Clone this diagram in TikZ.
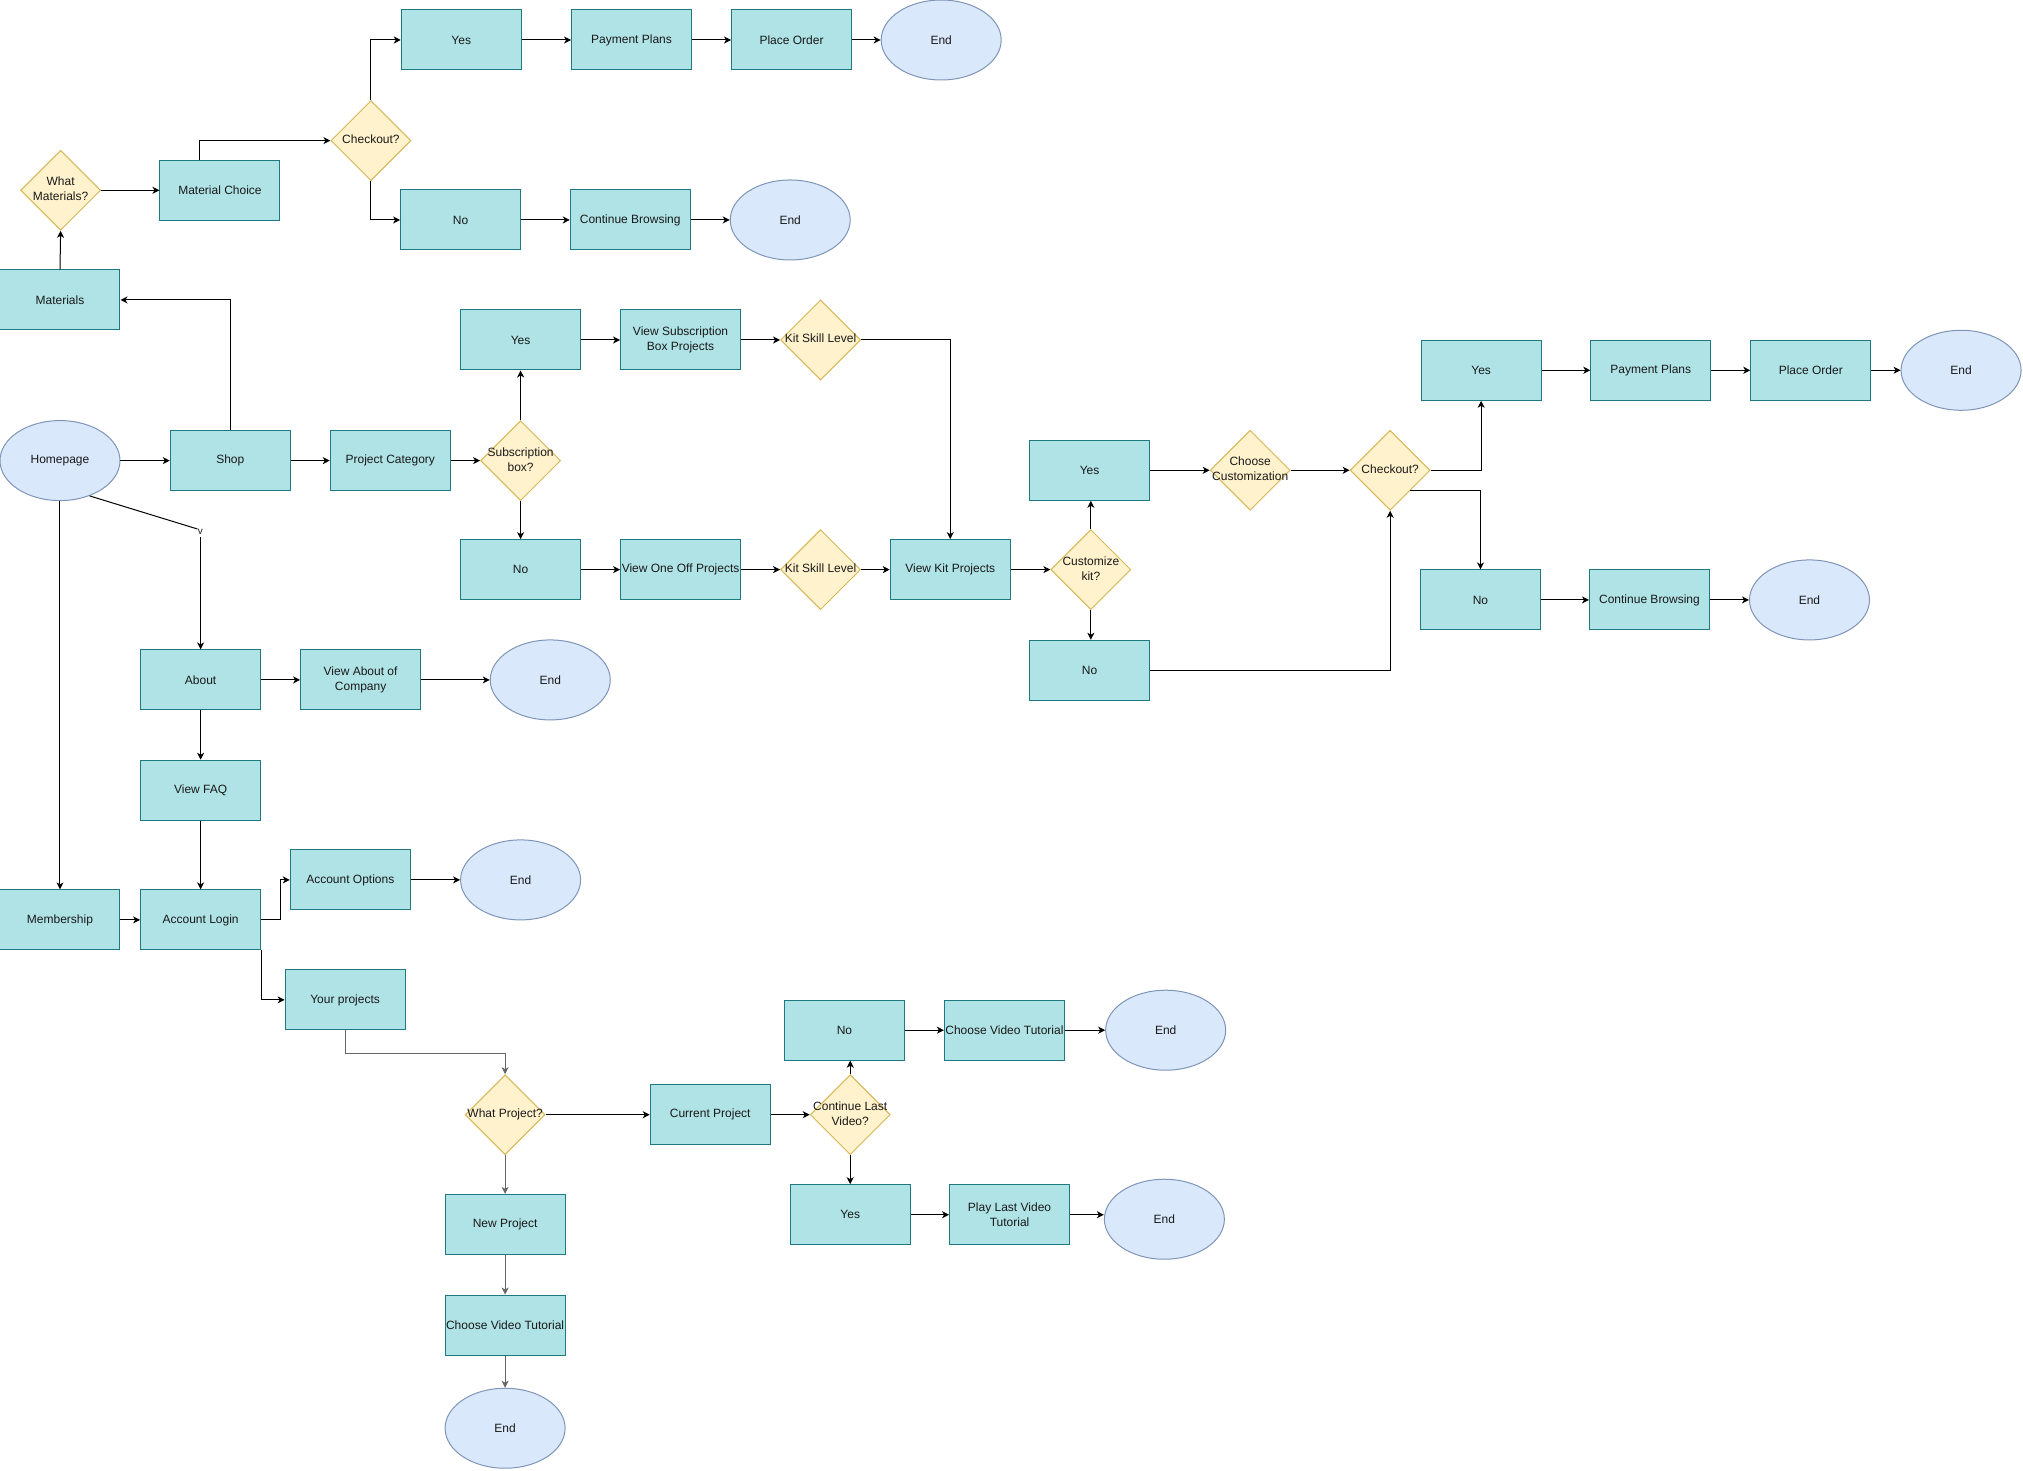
\documentclass[tikz,border=0pt]{standalone}
\usepackage{fontspec}
\setmainfont{Liberation Sans}
\usetikzlibrary{shapes.geometric,arrows.meta,calc}
\definecolor{boxfill}{HTML}{B0E3E6}
\definecolor{boxline}{HTML}{1E7A80}
\definecolor{endfill}{HTML}{DAE8FC}
\definecolor{endline}{HTML}{7F95B8}
\definecolor{decfill}{HTML}{FFF2CC}
\definecolor{decline}{HTML}{D6B656}
\definecolor{greyline}{HTML}{666666}
\newcommand\zwtext[1]{\makebox[0pt]{\begin{tabular}{@{}c@{}}#1\end{tabular}}}
\tikzset{
  every node/.style={font=\fontsize{12}{15}\selectfont, text=black!90},
  box/.style={rectangle, draw=boxline, fill=boxfill, line width=1pt, minimum width=120pt, minimum height=60pt, inner sep=0pt, align=center},
  term/.style={ellipse, draw=endline, fill=endfill, line width=1pt, minimum width=120pt, minimum height=80pt, inner sep=0pt, align=center},
  dec/.style={diamond, draw=decline, fill=decfill, line width=1pt, minimum width=80pt, minimum height=80pt, inner sep=0pt},
  arr/.style={draw=black, line width=1pt, -{Stealth[length=7pt,width=7pt,inset=2pt]}},
  garr/.style={arr, draw=greyline},
  plainline/.style={draw=black, line width=1pt},
}
\begin{document}
\begin{tikzpicture}[x=1.2902pt, y=-1.2902pt]
\useasboundingbox (0,0) rectangle (1568,1140);
% ---------- top branch
\node[box] (y1) at (357.5,31) {Yes};
\node[box] (pp1) at (489.5,31) {Payment Plans};
\node[box] (po1) at (613.5,31) {Place Order};
\node[term] (e1) at (729.5,31) {End};
\node[dec] (ck1) at (287.5,109) {\zwtext{Checkout?}};
\node[box] (n1) at (357,170.5) {No};
\node[box] (cb1) at (488.5,170.5) {Continue Browsing};
\node[term] (e2) at (612.5,170.5) {End};
\node[dec] (wm) at (47,147.5) {\zwtext{What\\Materials?}};
\node[box] (mc) at (170.5,147.5) {Material Choice};
\node[box] (mat) at (46.5,232.5) {Materials};
% ---------- middle
\node[term] (home) at (46.5,357) {Homepage};
\node[box] (shop) at (178.5,357) {Shop};
\node[box] (pc) at (302.5,357) {Project Category};
\node[dec] (sb) at (403.5,357) {\zwtext{Subscription\\box?}};
\node[box] (y2) at (403.5,263.5) {Yes};
\node[box] (vsb) at (527.5,263.5) {View Subscription\\Box Projects};
\node[dec] (k1) at (636,263.5) {\zwtext{Kit Skill Level}};
\node[box] (n2) at (403.5,441.5) {No};
\node[box] (voo) at (527.5,441.5) {View One Off Projects};
\node[dec] (k2) at (636,441.5) {\zwtext{Kit Skill Level}};
\node[box] (vkp) at (736.5,441.5) {View Kit Projects};
\node[dec] (cz) at (845.5,441.5) {\zwtext{Customize\\kit?}};
\node[box] (y3) at (844.5,364.5) {Yes};
\node[box] (n3) at (844.5,519.5) {No};
\node[dec] (cc) at (969,364.5) {\zwtext{Choose\\Customization}};
\node[dec] (ck2) at (1077.5,364.5) {\zwtext{Checkout?}};
\node[box] (y4) at (1148,287) {Yes};
\node[box] (pp2) at (1279.5,287) {Payment Plans};
\node[box] (po2) at (1403.5,287) {Place Order};
\node[term] (e3) at (1520,287) {End};
\node[box] (n4) at (1147.5,465) {No};
\node[box] (cb2) at (1278.5,465) {Continue Browsing};
\node[term] (e4) at (1402.5,465) {End};
% ---------- about / account
\node[box] (ab) at (155.5,527) {About};
\node[box] (vac) at (279.5,527) {View About of\\Company};
\node[term] (e5) at (426.5,527) {End};
\node[box] (faq) at (155.5,612.5) {View FAQ};
\node[box] (mem) at (46.5,713) {Membership};
\node[box] (al) at (155.5,713) {Account Login};
\node[box] (ao) at (271.5,682) {Account Options};
\node[term] (e6) at (403.5,682) {End};
\node[box] (yp) at (267.5,775) {Your projects};
\node[dec] (wp) at (391.5,864) {\zwtext{What Project?}};
\node[box] (cp) at (550.5,864) {Current Project};
\node[dec] (clv) at (659,864) {\zwtext{Continue Last\\Video?}};
\node[box] (n5) at (654.5,798.5) {No};
\node[box] (cvt1) at (778.5,798.5) {Choose Video Tutorial};
\node[term] (e7) at (903.5,798.5) {End};
\node[box] (y5) at (659,941.5) {Yes};
\node[box] (plv) at (782.5,941.5) {Play Last Video\\Tutorial};
\node[term] (e8) at (902.5,945) {End};
\node[box] (np) at (391.5,949) {New Project};
\node[box] (cvt2) at (391.5,1027) {Choose Video Tutorial};
\node[term] (e9) at (391.5,1107) {End};
% ---------- connectors: top
\draw[arr] (mat.north) -- (wm.south);
\draw[arr] (wm.east) -- (mc.west);
\draw[arr] ([xshift=-20pt]mc.north) |- (ck1.west);
\draw[arr] (ck1.north) |- (y1.west);
\draw[arr] (ck1.south) |- (n1.west);
\draw[arr] (y1) -- (pp1);
\draw[arr] (pp1) -- (po1);
\draw[arr] (po1) -- (e1);
\draw[arr] (n1) -- (cb1);
\draw[arr] (cb1) -- (e2);
\draw[arr] (shop.north) |- (mat.east);
% ---------- middle
\draw[arr] (home) -- (shop);
\draw[arr] (shop) -- (pc);
\draw[arr] (pc) -- (sb);
\draw[arr] (sb.north) -- (y2.south);
\draw[arr] (sb.south) -- (n2.north);
\draw[arr] (y2) -- (vsb);
\draw[arr] (vsb) -- (k1);
\draw[arr] (k1.east) -| (vkp.north);
\draw[arr] (n2) -- (voo);
\draw[arr] (voo) -- (k2);
\draw[arr] (k2) -- (vkp);
\draw[arr] (vkp) -- (cz);
\draw[arr] (cz.north) -- (cz.north |- y3.south);
\draw[arr] (cz.south) -- (cz.south |- n3.north);
\draw[arr] (y3) -- (cc);
\draw[arr] (cc) -- (ck2);
\draw[arr] (ck2.east) -| (y4.south);
\draw[arr] ($(ck2.south)!0.5!(ck2.east)$) -| (n4.north);
\draw[arr] (n3.east) -| (ck2.south);
\draw[arr] (y4) -- (pp2);
\draw[arr] (pp2) -- (po2);
\draw[arr] (po2) -- (e3);
\draw[arr] (n4) -- (cb2);
\draw[arr] (cb2) -- (e4);
% ---------- homepage to about (with stray v)
\coordinate (hva) at (153,410);
\coordinate (hvb) at (155.5,416.5);
\draw[plainline] (home.-50) -- (hva);
\node[font=\fontsize{10}{12}\selectfont, inner sep=0pt] (hvl) at (155.3,412.3) {v};
\draw[arr] (hvb) -- (ab.north);
\draw[arr] (home.south) -- (mem.north);
\draw[arr] (ab) -- (vac);
\draw[arr] (vac) -- (e5);
\draw[arr] (ab) -- (faq);
\draw[arr] (faq) -- (al);
\draw[arr] (mem) -- (al);
\draw[arr] (al.east) -- ($(al.east)+(15,0)$) |- (ao.west);
\draw[arr] (ao) -- (e6);
\draw[arr] (al.south east) |- (yp.west);
\draw[garr] (yp.south) -- ++(0,18) -| (wp.north);
\draw[arr] (wp.east) -- (cp.west);
\draw[garr] (wp.south) -- (np.north);
\draw[arr] (cp) -- (clv);
\draw[arr] (clv.north) -- (clv.north |- n5.south);
\draw[arr] (clv.south) -- (y5.north);
\draw[arr] (n5) -- (cvt1);
\draw[arr] (cvt1) -- (e7);
\draw[arr] (y5) -- (plv);
\draw[arr] (plv.east) -- (plv.east -| e8.west);
\draw[garr] (np) -- (cvt2);
\draw[garr] (cvt2) -- (e9);
\end{tikzpicture}
\end{document}
